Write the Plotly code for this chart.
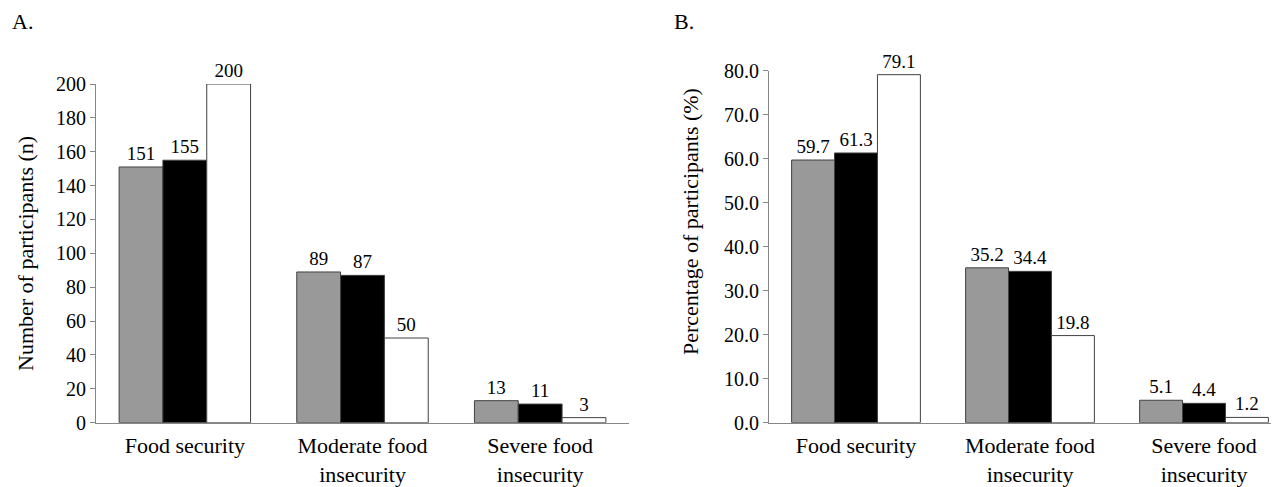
import plotly.graph_objects as go

categories = ["Food security", "Moderate food<br>insecurity", "Severe food<br>insecurity"]
series_names = ["Group 1", "Group 2", "Group 3"]
counts = [
    [151, 89, 13],
    [155, 87, 11],
    [200, 50, 3],
]
percents = [
    [59.7, 35.2, 5.1],
    [61.3, 34.4, 4.4],
    [79.1, 19.8, 1.2],
]
colors = ["#999999", "#000000", "#ffffff"]
left_ticks = list(range(0, 201, 20))
right_ticks = [i * 10.0 for i in range(9)]

OFF = 8  # page body margin
W, H = 1279 - OFF, 487 - OFF
FONT = "Liberation Serif, Times New Roman, Times, serif"

def px_x(p):
    return (p - OFF) / W

def px_y(p):
    return 1 - (p - OFF) / H

fig = go.Figure()

for i in range(3):
    fig.add_trace(go.Bar(
        x=categories, y=counts[i], name=series_names[i],
        marker=dict(color=colors[i], line=dict(color="#404040", width=1)),
        text=[str(v) for v in counts[i]], textposition="outside",
        textfont=dict(family=FONT, size=19, color="black"),
        constraintext="none", cliponaxis=False,
        xaxis="x", yaxis="y", showlegend=False,
    ))
for i in range(3):
    fig.add_trace(go.Bar(
        x=categories, y=percents[i], name=series_names[i],
        marker=dict(color=colors[i], line=dict(color="#404040", width=1)),
        text=[f"{v:.1f}" for v in percents[i]], textposition="outside",
        textfont=dict(family=FONT, size=19, color="black"),
        constraintext="none", cliponaxis=False,
        xaxis="x2", yaxis="y2", showlegend=False,
    ))

axis_color = "#868686"
xcommon = dict(showline=True, linecolor=axis_color, linewidth=1, ticks="",
               showgrid=False, zeroline=False, automargin=False,
               ticklabelstandoff=3,
               tickfont=dict(family=FONT, size=22, color="black"))
ycommon = dict(showline=True, linecolor=axis_color, linewidth=1, ticks="outside",
               ticklen=5, tickcolor=axis_color, showgrid=False, zeroline=False,
               automargin=False, tickfont=dict(family=FONT, size=20, color="black"))

fig.update_layout(
    width=W, height=H,
    margin=dict(l=0, r=0, t=0, b=0),
    paper_bgcolor="white", plot_bgcolor="white",
    barmode="group", bargap=0.26, bargroupgap=0,
    showlegend=False,
    font=dict(family=FONT, color="black"),
    xaxis=dict(domain=[px_x(96), px_x(629)], anchor="y", range=[-0.5, 2.5], **xcommon),
    yaxis=dict(domain=[px_y(422.7), px_y(84)], anchor="x", range=[0, 200],
               tickvals=left_ticks, ticktext=[str(v) for v in left_ticks], **ycommon),
    xaxis2=dict(domain=[px_x(769), 1.0], anchor="y2", range=[-0.5, -0.5 + 510 / 174], **xcommon),
    yaxis2=dict(domain=[px_y(422.7), px_y(70.7)], anchor="x2", range=[0, 80],
                tickvals=right_ticks, ticktext=[f"{v:.1f}" for v in right_ticks], **ycommon),
    annotations=[
        dict(text="A.", x=px_x(10), y=px_y(22), xref="paper", yref="paper",
             xanchor="left", yanchor="middle", showarrow=False,
             font=dict(family=FONT, size=22, color="black")),
        dict(text="B.", x=px_x(672), y=px_y(22), xref="paper", yref="paper",
             xanchor="left", yanchor="middle", showarrow=False,
             font=dict(family=FONT, size=22, color="black")),
        dict(text="Number of participants (n)", x=px_x(25), y=px_y(254),
             xref="paper", yref="paper", xanchor="center", yanchor="middle",
             textangle=-90, showarrow=False,
             font=dict(family=FONT, size=22, color="black")),
        dict(text="Percentage of participants (%)", x=px_x(690), y=px_y(222),
             xref="paper", yref="paper", xanchor="center", yanchor="middle",
             textangle=-90, showarrow=False,
             font=dict(family=FONT, size=22, color="black")),
    ],
)

fig.write_html("out.html")
